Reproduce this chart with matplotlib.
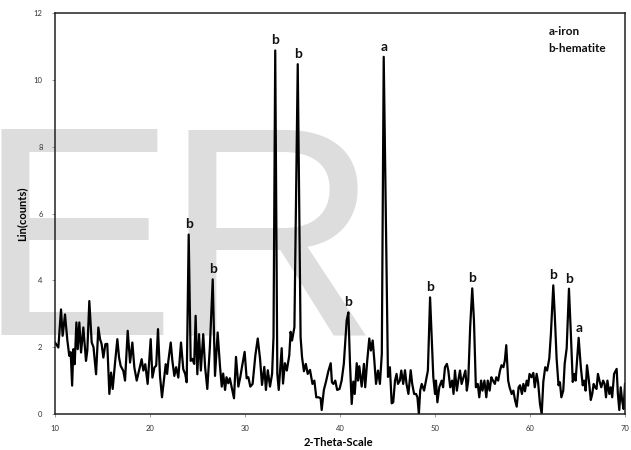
import matplotlib
matplotlib.use("Agg")
import matplotlib.pyplot as plt

# diffraction pattern, read as (2-theta, intensity) pairs
two_theta = [
    10.0, 10.35, 10.63, 10.8, 11.05, 11.3, 11.5, 11.65, 11.8, 11.93,
    12.07, 12.25, 12.39, 12.56, 12.74, 12.98, 13.26, 13.4, 13.61, 13.86,
    14.05, 14.32, 14.56, 14.74, 14.9, 15.09, 15.3, 15.5, 15.72, 15.9,
    16.07, 16.32, 16.56, 16.74, 16.91, 17.19, 17.37, 17.65, 17.9, 18.14,
    18.35, 18.6, 18.84, 19.12, 19.3, 19.5, 19.75, 20.07, 20.25, 20.46,
    20.65, 20.84, 21.05, 21.26, 21.47, 21.65, 21.8, 21.93, 22.18, 22.35,
    22.56, 22.75, 22.98, 23.26, 23.5, 23.7, 23.86, 24.07, 24.28, 24.45,
    24.65, 24.8, 24.98, 25.16, 25.35, 25.6, 25.8, 26.03, 26.3, 26.6,
    26.84, 27.12, 27.37, 27.55, 27.7, 27.9, 28.05, 28.24, 28.4, 28.6,
    28.84, 29.05, 29.3, 29.5, 29.68, 29.96, 30.17, 30.35, 30.56, 30.8,
    31.09, 31.34, 31.58, 31.79, 32.03, 32.2, 32.4, 32.63, 32.85, 33.0,
    33.18, 33.4, 33.55, 33.86, 34.0, 34.2, 34.4, 34.66, 34.8, 34.95,
    35.2, 35.55, 35.85, 36.0, 36.2, 36.4, 36.6, 36.84, 37.1, 37.3,
    37.5, 37.75, 37.96, 38.07, 38.3, 38.55, 38.77, 39.02, 39.15, 39.3,
    39.5, 39.7, 39.95, 40.17, 40.4, 40.7, 40.88, 41.05, 41.23, 41.4,
    41.55, 41.76, 41.9, 42.03, 42.28, 42.52, 42.65, 42.87, 43.08, 43.25,
    43.44, 43.61, 43.79, 44.0, 44.2, 44.4, 44.6, 45.05, 45.25, 45.44,
    45.6, 45.79, 45.95, 46.1, 46.3, 46.45, 46.65, 46.84, 47.0, 47.2,
    47.44, 47.6, 47.8, 48.0, 48.15, 48.3, 48.44, 48.6, 48.85, 49.05,
    49.25, 49.48, 49.65, 49.82, 50.0, 50.1, 50.25, 50.45, 50.7, 50.85,
    51.05, 51.25, 51.4, 51.6, 51.8, 51.95, 52.1, 52.3, 52.45, 52.63,
    52.8, 53.0, 53.2, 53.35, 53.5, 53.7, 53.92, 54.1, 54.3, 54.5,
    54.66, 54.85, 55.0, 55.2, 55.4, 55.55, 55.75, 55.93, 56.1, 56.3,
    56.45, 56.65, 56.84, 57.0, 57.2, 57.35, 57.5, 57.7, 57.85, 58.07,
    58.25, 58.42, 58.6, 58.8, 58.95, 59.15, 59.3, 59.47, 59.65, 59.8,
    59.95, 60.15, 60.35, 60.5, 60.7, 60.85, 61.05, 61.23, 61.4, 61.6,
    61.8, 62.03, 62.2, 62.45, 62.6, 62.8, 63.0, 63.15, 63.3, 63.5,
    63.65, 63.86, 64.1, 64.3, 64.5, 64.65, 64.8, 64.98, 65.12, 65.35,
    65.55, 65.7, 65.85, 66.0, 66.2, 66.4, 66.55, 66.7, 66.85, 67.0,
    67.15, 67.35, 67.5, 67.7, 67.85, 68.0, 68.15, 68.35, 68.5, 68.65,
    68.85, 69.12, 69.25, 69.4, 69.55, 69.7, 69.85, 70.0,
]
counts = [
    2.14, 1.99, 3.13, 2.34, 2.98, 2.2, 1.74, 1.85, 0.85, 1.94,
    1.49, 2.74, 1.94, 2.74, 1.84, 2.59, 1.59, 1.9, 3.38, 2.14,
    2.0, 1.19, 2.59, 2.24, 2.1, 1.69, 2.09, 2.1, 0.6, 1.24,
    0.75, 1.54, 2.24, 1.69, 1.44, 1.29, 1.0, 2.49, 1.54, 2.14,
    1.39, 1.0, 1.29, 1.64, 1.3, 1.49, 0.9, 2.24, 1.09, 1.39,
    1.45, 2.54, 1.14, 0.5, 1.04, 1.49, 1.2, 1.59, 2.14, 1.6,
    1.14, 1.4, 1.09, 2.14, 1.34, 1.2, 0.95, 5.37, 1.59, 1.65,
    1.5, 2.94, 1.19, 2.39, 1.3, 2.39, 1.4, 0.75, 2.0, 4.03,
    1.14, 2.44, 1.41, 0.82, 1.21, 0.72, 1.1, 0.92, 1.07, 0.8,
    0.47, 1.71, 0.82, 1.1, 1.41, 1.86, 1.07, 1.1, 0.82, 0.9,
    1.76, 2.26, 1.66, 0.87, 1.41, 0.72, 1.31, 0.82, 1.2, 2.31,
    10.88, 1.2, 0.72, 1.97, 0.91, 1.52, 1.3, 1.76, 2.46, 2.2,
    2.6, 10.47, 2.3, 1.71, 1.28, 1.5, 1.2, 1.32, 0.9, 1.0,
    0.5, 0.5, 0.47, 0.12, 0.72, 1.0, 1.28, 1.52, 0.95, 0.9,
    1.0, 0.72, 0.75, 1.0, 1.5, 2.8, 3.04, 1.52, 0.3, 0.97,
    0.6, 1.52, 1.0, 1.43, 0.82, 1.5, 0.8, 1.61, 2.26, 1.9,
    2.2, 1.61, 0.9, 1.3, 0.9, 1.8, 10.69, 1.11, 1.4, 0.32,
    0.35, 1.0, 1.2, 0.9, 1.0, 1.3, 0.9, 1.31, 0.9, 0.6,
    1.31, 0.9, 0.6, 0.6, 0.5, 0.0, 0.7, 0.9, 0.7, 1.0,
    1.3, 3.49, 2.3, 1.11, 0.6, 1.0, 0.35, 0.8, 1.0, 0.8,
    1.4, 1.5, 1.3, 0.8, 1.0, 0.6, 1.3, 0.7, 1.0, 1.3,
    0.9, 1.1, 1.3, 0.7, 1.0, 2.6, 3.76, 2.8, 0.8, 0.9,
    0.5, 1.0, 0.7, 1.0, 0.5, 1.0, 0.7, 1.1, 1.0, 0.9,
    1.1, 1.0, 1.3, 1.46, 1.4, 1.6, 2.06, 1.0, 0.8, 0.6,
    0.7, 0.42, 0.22, 0.8, 0.86, 0.6, 0.9, 0.68, 1.0, 0.85,
    1.2, 1.1, 1.23, 0.8, 1.2, 0.95, 0.3, 0.0, 0.96, 1.4,
    1.3, 1.66, 2.4, 3.85, 3.0, 1.66, 0.86, 0.95, 0.5, 0.7,
    1.5, 1.97, 3.75, 2.4, 0.96, 1.2, 1.0, 1.73, 2.28, 1.4,
    0.86, 1.0, 0.7, 1.46, 1.0, 0.42, 0.6, 0.9, 0.8, 0.75,
    1.2, 0.95, 0.8, 1.0, 0.9, 0.5, 1.0, 0.6, 0.8, 0.5,
    1.2, 1.35, 0.6, 0.12, 0.8, 0.4, 0.15, 0.9,
]

# phase labels above the indexed reflections
peak_pos = [24.07, 26.6, 33.18, 35.55, 40.88, 44.6, 49.48, 53.92, 62.45, 64.1, 65.12]
peak_height = [5.37, 4.03, 10.88, 10.47, 3.04, 10.69, 3.49, 3.76, 3.85, 3.75, 2.28]
peak_phase = ["b", "b", "b", "b", "b", "a", "b", "b", "b", "b", "a"]

legend_lines = ["a-iron", "b-hematite"]

x_ticks = [10, 20, 30, 40, 50, 60, 70]
y_ticks = [0, 2, 4, 6, 8, 10, 12]

LABEL_FONT = ["Lato", "DejaVu Sans"]

fig = plt.figure(figsize=(6.31, 4.5), dpi=100)
fig.patch.set_facecolor("white")

# big grey lettering behind the plot
fig.text(-0.037, 0.2556, "E", fontsize=215, family="Liberation Sans",
         color="#dddddd", va="baseline", ha="left", zorder=-5)
fig.text(0.259, 0.2556, "R", fontsize=215, family="Liberation Sans",
         color="#dddddd", va="baseline", ha="left", zorder=-5)

ax = fig.add_axes([0.0872, 0.08, 0.9033, 0.891])
ax.patch.set_alpha(0)

ax.plot(two_theta, counts, color="black", lw=1.6, solid_joinstyle="round")

for pos, h, ph in zip(peak_pos, peak_height, peak_phase):
    ax.annotate(ph, (pos, h), xytext=(0, 3), textcoords="offset points",
                ha="center", va="bottom", fontsize=10, fontweight="bold",
                family=LABEL_FONT, color="#111111")

for i, line in enumerate(legend_lines):
    ax.text(0.866, 0.955 - i * 0.043, line, transform=ax.transAxes,
            ha="left", va="center", fontsize=8.5, fontweight="bold",
            family=LABEL_FONT, color="#111111")

ax.set_xlim(10, 70)
ax.set_ylim(0, 12)
ax.set_xticks(x_ticks)
ax.set_yticks(y_ticks)
ax.tick_params(axis="both", length=2, width=0.6, labelsize=5.5,
               labelcolor="#333333", color="#888888")
ax.tick_params(axis="x", pad=6)
ax.tick_params(axis="y", pad=7)
for lbl in ax.get_xticklabels() + ax.get_yticklabels():
    lbl.set_family(LABEL_FONT)

for side in ["left", "right", "top", "bottom"]:
    ax.spines[side].set_linewidth(1.1)
    ax.spines[side].set_color("#222222")

ax.set_xlabel("2-Theta-Scale", fontsize=8, fontweight="bold", family=LABEL_FONT)
ax.set_ylabel("Lin(counts)", fontsize=8, fontweight="bold", family=LABEL_FONT)
ax.xaxis.set_label_coords(0.498, -0.057)
ax.yaxis.set_label_coords(-0.049, 0.5)

fig.savefig("out.png", dpi=100)
